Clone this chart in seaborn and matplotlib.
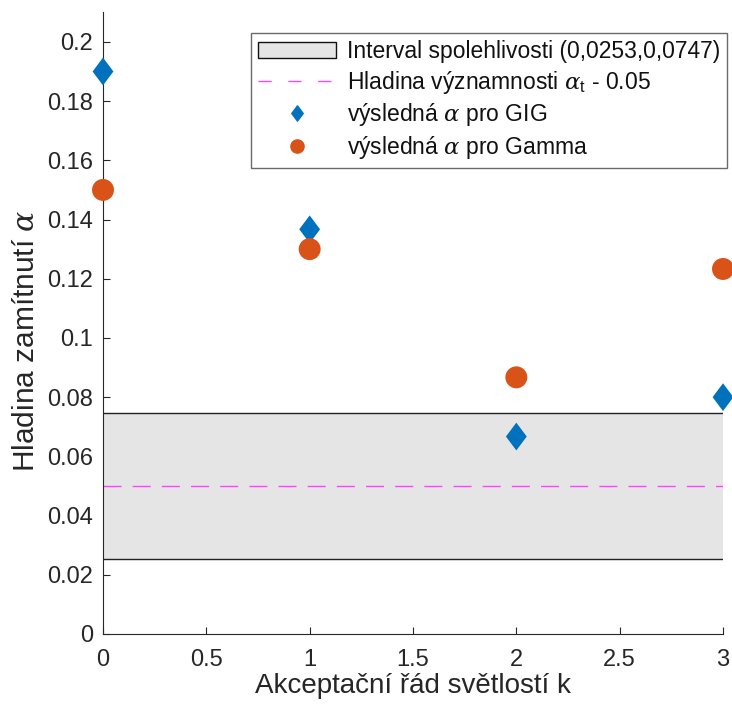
import numpy as np
import pandas as pd
import matplotlib
matplotlib.use("Agg")
import matplotlib.pyplot as plt
from matplotlib.patches import Patch
from matplotlib.lines import Line2D
from matplotlib.path import Path
import seaborn as sns

# Data
k_values = [0, 1, 2, 3]
alpha_gig = [0.19, 0.1367, 0.0667, 0.08]
alpha_gamma = [0.15, 0.13, 0.0867, 0.1233]
ci_low, ci_high = 0.0253, 0.0747
alpha_target = 0.05
x_ticks = [0, 0.5, 1, 1.5, 2, 2.5, 3]
x_tick_labels = ["0", "0.5", "1", "1.5", "2", "2.5", "3"]
y_ticks = [0, 0.02, 0.04, 0.06, 0.08, 0.1, 0.12, 0.14, 0.16, 0.18, 0.2]
y_tick_labels = ["0", "0.02", "0.04", "0.06", "0.08", "0.1", "0.12", "0.14", "0.16", "0.18", "0.2"]

sns.set_theme(style="white")
plt.rcParams["font.family"] = ["Liberation Sans", "DejaVu Sans"]
plt.rcParams["mathtext.fontset"] = "custom"
plt.rcParams["mathtext.rm"] = "Liberation Sans"
plt.rcParams["mathtext.it"] = "DejaVu Serif:italic"

dark = "#262626"
blue = "#0072BD"
orange = "#D95319"
band_grey = "#E5E5E5"
magenta = "#FF44FF"

fig = plt.figure(figsize=(7.32, 7.06), dpi=100)
ax = fig.add_axes([103 / 732, 1 - 634 / 706, 620 / 732, 622 / 706])

# Confidence band with its boundary lines and the target level
ax.fill_between([0, 3], ci_low, ci_high, color=band_grey, linewidth=0, zorder=1)
ax.plot([0, 3], [ci_high, ci_high], color="#222222", lw=1.0, zorder=2)
ax.plot([0, 3], [ci_low, ci_low], color="#222222", lw=1.0, zorder=2)
ax.plot([0, 3], [alpha_target, alpha_target], color=magenta, lw=1.0,
        dashes=(13, 8), zorder=2)

# Tall diamond marker
diamond = Path([(0, 1), (0.75, 0), (0, -1), (-0.75, 0), (0, 1)],
               [Path.MOVETO, Path.LINETO, Path.LINETO, Path.LINETO, Path.CLOSEPOLY])

df = pd.DataFrame({"k": k_values, "gig": alpha_gig, "gamma": alpha_gamma})
sns.scatterplot(data=df, x="k", y="gig", ax=ax, marker=diamond, s=400,
                color=blue, edgecolor="none", linewidth=0, clip_on=False, zorder=4)
sns.scatterplot(data=df, x="k", y="gamma", ax=ax, marker="o", s=250,
                color=orange, edgecolor="none", linewidth=0, clip_on=False, zorder=5)

ax.set_xlim(0, 3)
ax.set_ylim(0, 0.2101)
ax.set_xticks(x_ticks)
ax.set_xticklabels(x_tick_labels)
ax.set_yticks(y_ticks)
ax.set_yticklabels(y_tick_labels)
ax.tick_params(direction="in", length=5, width=0.8, colors=dark, labelsize=17,
               labelcolor=dark, left=True, bottom=True)
ax.tick_params(axis="x", pad=11)
ax.tick_params(axis="y", pad=7)
for side in ["top", "right"]:
    ax.spines[side].set_visible(False)
for side in ["left", "bottom"]:
    ax.spines[side].set_color(dark)
    ax.spines[side].set_linewidth(0.8)

ax.set_xlabel("Akceptační řád světlostí k", fontsize=20, color=dark, labelpad=1)
ax.set_ylabel(r"Hladina zamítnutí $\alpha$", fontsize=21.5, color=dark)
ax.yaxis.set_label_coords(-0.102, 0.471)

handles = [
    Patch(facecolor=band_grey, edgecolor="#111111", linewidth=1.0),
    Line2D([], [], color=magenta, lw=1.0, dashes=(9.5, 12)),
    Line2D([], [], marker=diamond, color=blue, linestyle="none", markersize=11),
    Line2D([], [], marker="o", color=orange, linestyle="none", markersize=9.5),
]
labels = [
    "Interval spolehlivosti (0,0253,0,0747)",
    r"Hladina významnosti $\alpha_{\mathrm{t}}$ - 0.05",
    r"výsledná $\alpha$ pro GIG",
    r"výsledná $\alpha$ pro Gamma",
]
leg = fig.legend(handles, labels, loc="upper right",
                 bbox_to_anchor=(727 / 732, 1 - 33 / 706),
                 fontsize=16.5, frameon=True, fancybox=False, framealpha=1,
                 edgecolor="#6a6a6a", handlelength=3.4, handletextpad=0.48,
                 borderpad=0.3, labelspacing=0.25, borderaxespad=0)
leg.get_frame().set_linewidth(1.0)
for t in leg.get_texts():
    t.set_color("#111111")

fig.savefig("out.png", dpi=100)
